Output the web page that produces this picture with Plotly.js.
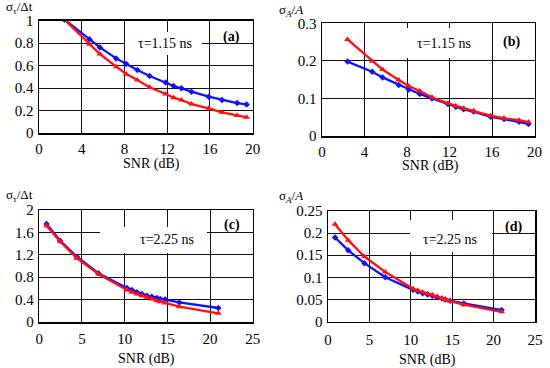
<!DOCTYPE html>
<html><head><meta charset="utf-8">
<script src="https://cdn.plot.ly/plotly-3.0.1.min.js"></script>
<style>html,body{margin:0;padding:0;background:#fff}#chart{width:550px;height:368px}</style>
</head><body><div id="chart"></div>
<script>
// ---- data ----
const snrTop = [2.4, 4.72, 5.7, 7.22, 8.16, 9.2, 10.35, 11.85, 12.6, 13.33, 14.27, 15.88, 17.13, 18.54, 19.43];
const blueA = [1.01, 0.835, 0.763, 0.665, 0.615, 0.561, 0.508, 0.449, 0.419, 0.398, 0.368, 0.324, 0.294, 0.267, 0.255];
const redA  = [1.01, 0.79, 0.704, 0.591, 0.526, 0.472, 0.407, 0.348, 0.315, 0.294, 0.258, 0.22, 0.184, 0.157, 0.14];
const blueB = [0.198, 0.171, 0.156, 0.136, 0.124, 0.112, 0.100, 0.085, 0.078, 0.071, 0.065, 0.051, 0.045, 0.038, 0.032];
const redB  = [0.257, 0.199, 0.177, 0.149, 0.133, 0.120, 0.103, 0.087, 0.080, 0.074, 0.0665, 0.054, 0.047, 0.042, 0.037];

const snrBot = [0.85, 2.44, 4.39, 6.92, 10.27, 10.84, 11.43, 12.02, 12.6, 13.18, 13.76, 14.17, 14.74, 16.4, 20.97];
const blueC = [1.75, 1.45, 1.166, 0.87, 0.607, 0.571, 0.53, 0.50, 0.47, 0.452, 0.43, 0.41, 0.40, 0.35, 0.25];
const redC  = [1.72, 1.44, 1.14, 0.857, 0.571, 0.53, 0.50, 0.47, 0.44, 0.41, 0.38, 0.363, 0.34, 0.273, 0.155];
const blueD = [0.19, 0.161, 0.132, 0.100, 0.0716, 0.068, 0.064, 0.061, 0.058, 0.055, 0.052, 0.050, 0.047, 0.041, 0.026];
const redD  = [0.22, 0.184, 0.147, 0.112, 0.074, 0.070, 0.066, 0.063, 0.060, 0.056, 0.052, 0.049, 0.046, 0.038, 0.022];

const panelLabels = ['(a)', '(b)', '(c)', '(d)'];
const tauLabels = ['τ=1.15 ns', 'τ=1.15 ns', 'τ=2.25 ns', 'τ=2.25 ns'];
const yTitles = ['σ<sub>τ</sub>/Δt', 'σ<sub><i>A</i></sub>/<i>A</i>', 'σ<sub>τ</sub>/Δt', 'σ<sub><i>A</i></sub>/<i>A</i>'];
const xTitle = 'SNR (dB)';

// ---- layout helpers ----
const W = 550, H = 368;
const px = x => x / W;
const py = y => 1 - y / H;
const FONT = "'Liberation Serif', 'Times New Roman', serif";
const BLUE = '#1010ff', RED = '#ff1010';

function trace(x, y, color, sym, xa, ya) {
  return {x: x, y: y, xaxis: xa, yaxis: ya, type: 'scatter', mode: 'lines+markers',
    line: {color: color, width: 2.3}, marker: {color: color, symbol: sym, size: sym === 'triangle-up' ? 6 : 5},
    showlegend: false, hoverinfo: 'skip', cliponaxis: true};
}
const data = [
  trace(snrTop, blueA, BLUE, 'diamond', 'x', 'y'),
  trace(snrTop, redA, RED, 'triangle-up', 'x', 'y'),
  trace(snrTop, blueB, BLUE, 'diamond', 'x2', 'y2'),
  trace(snrTop, redB, RED, 'triangle-up', 'x2', 'y2'),
  trace(snrBot, blueC, BLUE, 'diamond', 'x3', 'y3'),
  trace(snrBot, redC, RED, 'triangle-up', 'x3', 'y3'),
  trace(snrBot, blueD, BLUE, 'diamond', 'x4', 'y4'),
  trace(snrBot, redD, RED, 'triangle-up', 'x4', 'y4'),
];

function axis(extra) {
  return Object.assign({showline: true, mirror: true, linecolor: '#000', linewidth: 1.5,
    showgrid: true, gridcolor: '#111', gridwidth: 1, zeroline: false, ticks: '',
    tickfont: {family: FONT, size: 15, color: '#000'}, fixedrange: true}, extra);
}
// pixel boxes of the four plot areas [left, right, top, bottom]
const boxes = [[39, 252.7, 20.8, 133], [322, 534.5, 23.3, 136], [39.3, 252.7, 210, 322], [328, 535, 211, 321.5]];
const xr = [[0, 20], [0, 20], [0, 25], [0, 25]];
const xd = [4, 4, 5, 5];
const yr = [[0, 1], [0, 0.3], [0, 2], [0, 0.25]];
const yd = [0.2, 0.1, 0.4, 0.05];
const xStand = [1, 1, 2, 4];

const layout = {width: W, height: H, margin: {l: 0, r: 0, t: 0, b: 0},
  paper_bgcolor: '#fff', plot_bgcolor: '#fff', showlegend: false,
  font: {family: FONT, color: '#000'}, annotations: [], shapes: []};

boxes.forEach((b, i) => {
  const s = i === 0 ? '' : String(i + 1);
  layout['xaxis' + s] = axis({domain: [px(b[0]), px(b[1])], range: xr[i], dtick: xd[i], tick0: 0,
    anchor: 'y' + s, ticklabelstandoff: xStand[i]});
  layout['yaxis' + s] = axis({domain: [py(b[3]), py(b[2])], range: yr[i], dtick: yd[i], tick0: 0,
    anchor: 'x' + s, ticklabelstandoff: 1});
});

// white boxes behind the τ labels (they hide grid lines)
const tauBoxes = [[125, 202, 32, 55], [405, 483, 28, 58], [100, 207, 227, 253], [410, 492, 220, 252]];
const tauPos = [[164.5, 44], [444, 44], [166.5, 239], [450, 239]];
tauBoxes.forEach((b, i) => {
  layout.shapes.push({type: 'rect', xref: 'paper', yref: 'paper', layer: 'above',
    x0: px(b[0]), x1: px(b[1]), y0: py(b[3]), y1: py(b[2]), fillcolor: '#fff', line: {width: 0}});
  layout.annotations.push({xref: 'paper', yref: 'paper', x: px(tauPos[i][0]), y: py(tauPos[i][1]),
    xanchor: 'center', yanchor: 'middle', text: tauLabels[i], showarrow: false,
    font: {family: FONT, size: 14, color: '#000'}});
});
// panel letters
const letterPos = [[231.5, 37.5], [511.7, 41.5], [231.7, 225], [513, 227]];
letterPos.forEach((p, i) => {
  layout.annotations.push({xref: 'paper', yref: 'paper', x: px(p[0]), y: py(p[1]),
    xanchor: 'center', yanchor: 'middle', text: '<b>' + panelLabels[i] + '</b>', showarrow: false,
    font: {family: FONT, size: 14, color: '#000'}});
});
// y titles (top-left, horizontal)
const yTitlePos = [[4, 7], [277, 10], [4, 195], [277, 196]];
yTitlePos.forEach((p, i) => {
  layout.annotations.push({xref: 'paper', yref: 'paper', x: px(p[0]), y: py(p[1]),
    xanchor: 'left', yanchor: 'middle', text: yTitles[i], showarrow: false,
    font: {family: FONT, size: 13, color: '#000'}});
});
// x titles
const xTitlePos = [[151, 164], [430, 166], [146.7, 359], [427.5, 360]];
xTitlePos.forEach((p, i) => {
  layout.annotations.push({xref: 'paper', yref: 'paper', x: px(p[0]), y: py(p[1]),
    xanchor: 'center', yanchor: 'middle', text: xTitle, showarrow: false,
    font: {family: FONT, size: 14, color: '#000'}});
});

Plotly.newPlot('chart', data, layout, {staticPlot: true, displayModeBar: false});
</script>
</body></html>
